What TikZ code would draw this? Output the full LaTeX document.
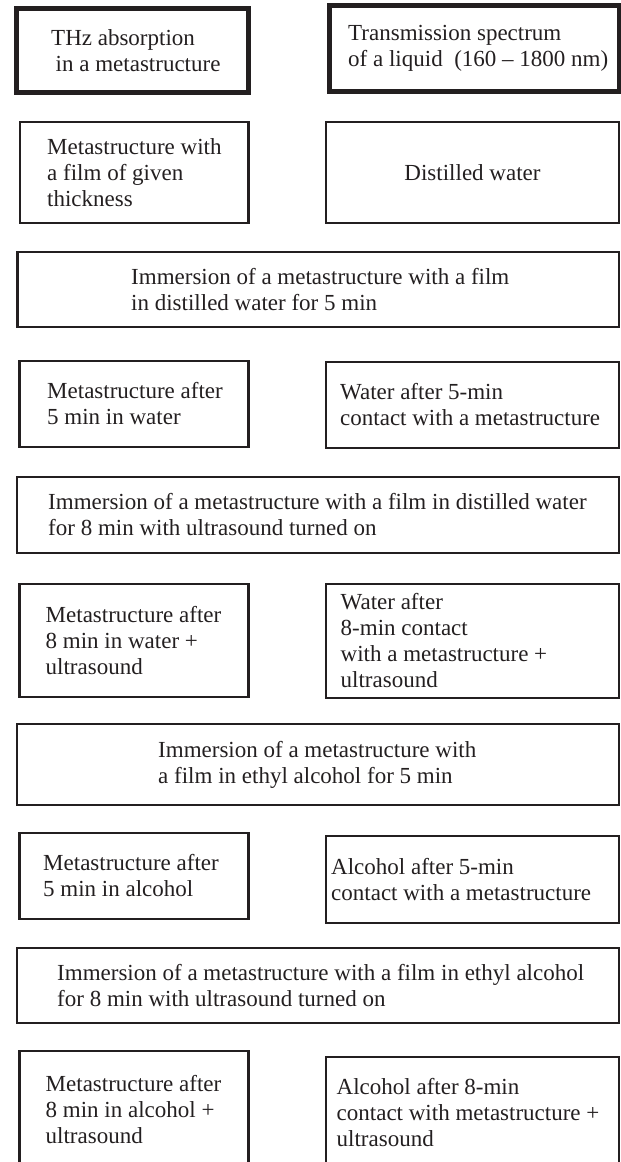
\documentclass[tikz,border=0pt]{standalone}
\usepackage{fontspec}
\setmainfont{Liberation Serif}
\usetikzlibrary{fit}
\definecolor{ink}{HTML}{231F20}
\tikzset{
  boxthin/.style={draw=ink, line width=2.5pt, rectangle, inner sep=0pt},
  boxthick/.style={boxthin, line width=5pt},
  txt/.style={anchor=west, align=left, inner sep=0pt, text=ink, font=\fontsize{23}{26}\selectfont},
  txtc/.style={txt, anchor=center, align=center},
}
\begin{document}
\begin{tikzpicture}[x=1pt,y=-1pt]
\useasboundingbox (0,0) rectangle (621,1162);
\clip (0,0) rectangle (621,1162);
% row 1
\node[boxthick, fit={(16.5,8) (248.5,92.5)}] (b1) {};
\node[txt] (t1) at (51,0 |- b1.center) {THz absorption\\\hspace*{4.5pt}in a metastructure};
\node[boxthick, fit={(329,5.5) (619,91.5)}] (b2) {};
\node[txt] (t2) at (348,0 |- b2.center) {Transmission spectrum\\of a liquid\ \ (160 – 1800 nm)};
% row 2
\node[boxthin, fit={(20,122) (248.5,223)}] (b3) {};
\node[txt] (t3) at (47,0 |- b3.center) {Metastructure with\\a film of given\\thickness};
\node[boxthin, fit={(326,122) (619,223)}] (b4) {};
\node[txtc] (t4) at (b4.center) {Distilled water};
% row 3
\node[boxthin, fit={(17.5,252) (619,327)}] (b5) {};
\node[txt] (t5) at (131,0 |- b5.center) {Immersion of a metastructure with a film\\in distilled water for 5 min};
% row 4
\node[boxthin, fit={(19.5,361) (248.5,447)}] (b6) {};
\node[txt] (t6) at (47,0 |- b6.center) {Metastructure after\\5 min in water};
\node[boxthin, fit={(326,362) (619,448)}] (b7) {};
\node[txt] (t7) at (340,0 |- b7.center) {Water after 5-min\\contact with a metastructure};
% row 5
\node[boxthin, fit={(17,477) (619,553)}] (b8) {};
\node[txt] (t8) at (48,0 |- b8.center) {Immersion of a metastructure with a film in distilled water\\for 8 min with ultrasound turned on};
% row 6
\node[boxthin, fit={(19.5,584) (248.5,697)}] (b9) {};
\node[txt] (t9) at (45.5,0 |- b9.center) {Metastructure after\\8 min in water +\\ultrasound};
\node[boxthin, fit={(326,584) (619,698)}] (b10) {};
\node[txt] (t10) at (340.5,0 |- b10.center) {Water after\\8-min contact\\with a metastructure +\\ultrasound};
% row 7
\node[boxthin, fit={(17,724) (619,805)}] (b11) {};
\node[txt] (t11) at (158,0 |- b11.center) {Immersion of a metastructure with\\a film in ethyl alcohol for 5 min};
% row 8
\node[boxthin, fit={(19.5,833) (248.5,919)}] (b12) {};
\node[txt] (t12) at (43,0 |- b12.center) {Metastructure after\\5 min in alcohol};
\node[boxthin, fit={(326,836) (619,923)}] (b13) {};
\node[txt] (t13) at (331,0 |- b13.center) {Alcohol after 5-min\\contact with a metastructure};
% row 9
\node[boxthin, fit={(17,948) (619,1023)}] (b14) {};
\node[txt] (t14) at (57,0 |- b14.center) {Immersion of a metastructure with a film in ethyl alcohol\\for 8 min with ultrasound turned on};
% row 10
\node[boxthin, fit={(19.5,1051) (248.5,1200)}] (b15) {};
\node[txt] (t15) at (45.5,1110) {Metastructure after\\8 min in alcohol +\\ultrasound};
\node[boxthin, fit={(326,1057) (619,1200)}] (b16) {};
\node[txt] (t16) at (336.5,1113) {Alcohol after 8-min\\contact with metastructure +\\ultrasound};
\end{tikzpicture}
\end{document}
